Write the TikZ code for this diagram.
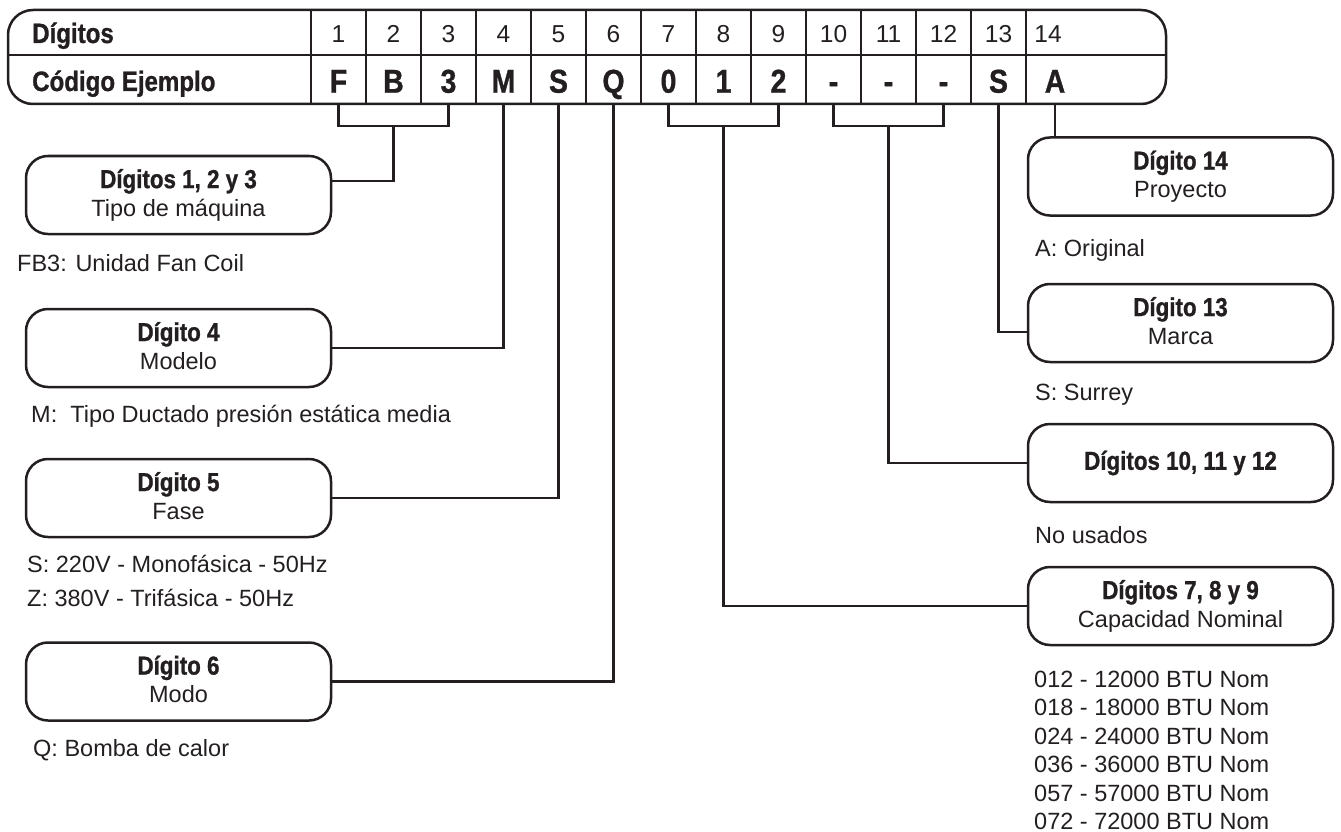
\documentclass[tikz,border=0pt]{standalone}
\usepackage{fontspec}
\setmainfont{Liberation Sans}
\newfontfamily\condfont[FakeStretch=0.86,FakeBold=1]{Liberation Sans}
\definecolor{ink}{HTML}{231F20}
\newcommand\boxtitle[1]{{\fontsize{26}{28}\condfont\bfseries #1}}
\newcommand\boxsub[1]{{\fontsize{23.5}{28}\selectfont #1\vphantom{p}}}
\begin{document}
\begin{tikzpicture}[x=1pt,y=-1pt,
  lw/.style={draw=ink,line width=2.5pt},
  dbox/.style={draw=ink,line width=2.5pt,rounded corners=22pt,minimum width=305pt,minimum height=78pt,inner sep=0pt,align=center,text=ink,font=\fontsize{23.5}{28}\selectfont},
  hdig/.style={inner sep=0pt,minimum width=55pt,text height=18pt,text depth=0pt,text=ink,font=\fontsize{24.5}{28}\selectfont},
  code/.style={inner sep=0pt,minimum width=55pt,minimum height=47pt,text height=24.4pt,text depth=0pt,text=ink,font=\fontsize{33}{36}\condfont\bfseries},
  hlab/.style={anchor=base west,inner sep=0pt,text=ink,font=\fontsize{28}{30}\condfont\bfseries},
  ftxt/.style={anchor=base west,inner sep=0pt,text=ink,font=\fontsize{23.5}{28}\selectfont}]
\useasboundingbox (0,0) rectangle (1341,832);

% table
\draw[lw,rounded corners=25pt] (8,10) rectangle (1166,104);
\draw[lw] (8,55) -- (1166,55);
\foreach \k in {0,...,13} \draw[lw] (311+55*\k,10) -- (311+55*\k,104);
\node[hlab] (lab1) at (32,43) {Dígitos};
\node[hlab] (lab2) at (32,91) {Código Ejemplo};
\foreach \i/\c in {1/F,2/B,3/3,4/M,5/S,6/Q,7/0,8/1,9/2,10/-,11/-,12/-,13/S} {
  \node[hdig] (h\i) at (283.5+55*\i,34) {\i};
  \node[code] (c\i) at (283.5+55*\i,80.5) {\c};
}
\node[hdig] (h14) at (1048,34) {14};
\node[code] (c14) at (1055,80.5) {A};

% boxes left
\node[dbox] (b123) at (178.5,195) {\boxtitle{Dígitos 1, 2 y 3}\\\boxsub{Tipo de máquina}};
\node[dbox] (b4) at (178.5,348) {\boxtitle{Dígito 4}\\\boxsub{Modelo}};
\node[dbox] (b5) at (178.5,498) {\boxtitle{Dígito 5}\\\boxsub{Fase}};
\node[dbox] (b6) at (178.5,681.5) {\boxtitle{Dígito 6}\\\boxsub{Modo}};
% boxes right
\node[dbox] (b14) at (1180.5,176.5) {\boxtitle{Dígito 14}\\\boxsub{Proyecto}};
\node[dbox] (b13) at (1180.5,323) {\boxtitle{Dígito 13}\\\boxsub{Marca}};
\node[dbox] (b1012) at (1180.5,463) {\boxtitle{Dígitos 10, 11 y 12}};
\node[dbox] (b789) at (1180.5,606) {\boxtitle{Dígitos 7, 8 y 9}\\\boxsub{Capacidad Nominal}};

% free texts
\node[ftxt] (t1) at (17,271) {FB3: Unidad Fan Coil};
\node[ftxt] (t4) at (31,422) {M:~~Tipo Ductado presión estática media};
\node[ftxt] (t5a) at (27,572) {S: 220V - Monofásica - 50Hz};
\node[ftxt] (t5b) at (27,606) {Z: 380V - Trifásica - 50Hz};
\node[ftxt] (t6) at (33,756) {Q: Bomba de calor};
\node[ftxt] (t14) at (1035,256) {A: Original};
\node[ftxt] (t13) at (1035,400) {S: Surrey};
\node[ftxt] (t1012) at (1035,543) {No usados};
\foreach \n/\v [count=\j from 0] in {012/12000,018/18000,024/24000,036/36000,057/57000,072/72000}
  \node[ftxt] (btu\j) at (1034,687+28.5*\j) {\n{} - \v{} BTU Nom};

% connectors
\coordinate (j123) at (c2.south |- 0,126);
\draw[lw] (c1.south) |- (j123) -| (c3.south);
\draw[lw] (j123) |- (b123.east |- 0,181);
\draw[lw] (c4.south) |- (b4.east);
\draw[lw] (c5.south) |- (b5.east);
\draw[lw] (c6.south) |- (b6.east);
\coordinate (j789) at (c8.south |- 0,126);
\draw[lw] (c7.south) |- (j789) -| (c9.south);
\draw[lw] (j789) |- (b789.west);
\coordinate (j1012) at (c11.south |- 0,126);
\draw[lw] (c10.south) |- (j1012) -| (c12.south);
\draw[lw] (j1012) |- (b1012.west);
\draw[lw] (c13.south) |- (b13.west |- 0,332);
\draw[lw] (c14.south) -- (c14.south |- b14.north);
\end{tikzpicture}
\end{document}
